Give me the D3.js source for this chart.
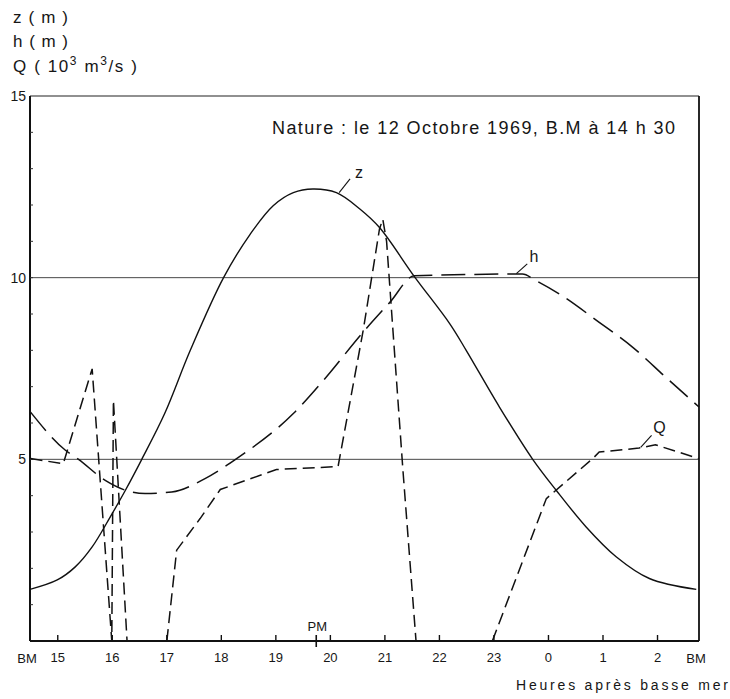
<!DOCTYPE html>
<html>
<head>
<meta charset="utf-8">
<script src="https://cdn.jsdelivr.net/npm/d3@7"></script>
<style>
  body { margin: 0; background: #fff; }
  text { font-family: "Liberation Sans", "DejaVu Sans", sans-serif; fill: #161616; }
</style>
</head>
<body>
<script>
// Values. Hours run past 24 so the curves stay continuous (24 = 0h, 25 = 1h...)

// z : water level (m), solid
const zHours  = [14.5, 15.0, 15.33, 15.64, 15.97, 16.25, 16.55, 16.97, 17.44, 18.05, 18.54, 18.96, 19.33, 19.69, 20.12, 20.55, 20.91, 21.55, 22.2, 22.5, 23.11, 23.72, 24.15, 24.7, 25.25, 25.86, 26.72]
const zValues = [1.42, 1.68, 2.04, 2.59, 3.41, 4.15, 5.0, 6.26, 8.0, 10.0, 11.2, 11.98, 12.34, 12.44, 12.34, 11.89, 11.38, 10.03, 8.73, 8.0, 6.44, 5.0, 4.15, 3.14, 2.32, 1.72, 1.42]

// h : basin level (m), long dashes
const hHours  = [14.51, 15.15, 15.39, 15.88, 16.25, 16.61, 17.1, 17.71, 18.29, 19.33, 19.88, 20.61, 21.1, 21.55, 23.53, 23.78, 24.21, 24.94, 25.55, 26.16, 26.77]
const hValues = [6.3, 5.25, 5.0, 4.42, 4.15, 4.06, 4.1, 4.47, 5.02, 6.26, 7.17, 8.5, 9.32, 10.05, 10.1, 9.92, 9.55, 8.77, 8.09, 7.26, 6.44]

// Q : flow (10^3 m3/s), short dashes. null = off the chart (below 0)
const qHours  = [14.51, 15.11, 15.64, 16.0, 16.03, 16.28, 16.6, 17.01, 17.19, 17.62, 17.99, 19.02, 20.15, 20.61, 20.91, 20.97, 21.04, 21.34, 21.58, 22.3, 22.98, 23.97, 24.82, 24.94, 25.67, 25.97, 26.77]
const qValues = [5.02, 4.88, 7.49, 0, 6.62, 0, null, 0, 2.5, 3.37, 4.17, 4.72, 4.8, 8.54, 11.34, 11.61, 11.0, 4.7, 0, null, 0, 3.92, 5.02, 5.2, 5.31, 5.4, 5.02]

// axes
const xStart = 14.5    // BM 14h30
const xEnd = 26.77     // next BM
const xTicks = [15, 16, 17, 18, 19, 20, 21, 22, 23, 24, 25, 26]
const xTickLabels = ['15', '16', '17', '18', '19', '20', '21', '22', '23', '0', '1', '2']
const pmHour = 19.75
const yTicks = [5, 10, 15]
const gridLevels = [5, 10]

const zData = zHours.map((t, i) => ({t, v: zValues[i]}))
const hData = hHours.map((t, i) => ({t, v: hValues[i]}))
const qData = qHours.map((t, i) => ({t, v: qValues[i]}))

const body = d3.select("body")

const margin = {left: 30, top: 96, right: 31, bottom: 58}
const outerWidth = 730
const outerHeight = 699
const width = outerWidth - margin.left - margin.right
const height = outerHeight - margin.top - margin.bottom

const svg = body.append("svg")
    .attr("width", outerWidth)
    .attr("height", outerHeight)

const canvas = svg.append("g")
    .attr("transform", `translate(${margin.left}, ${margin.top})`)

const x = d3.scaleLinear().domain([xStart, xEnd]).range([0, width])
const y = d3.scaleLinear().domain([0, 15]).range([height, 0])

// unit labels top left
const units = svg.append("g").style("font-size", "17px")
units.append("text").attr("x", 13).attr("y", 23).attr("textLength", 55).attr("lengthAdjust", "spacing").text("z ( m )")
units.append("text").attr("x", 13).attr("y", 47).attr("textLength", 55).attr("lengthAdjust", "spacing").text("h ( m )")
const qUnit = units.append("text").attr("x", 13).attr("y", 72).style("letter-spacing", "1.6px")
qUnit.append("tspan").text("Q ( 10")
qUnit.append("tspan").attr("dy", -7).style("font-size", "12px").text("3")
qUnit.append("tspan").attr("dy", 7).text(" m")
qUnit.append("tspan").attr("dy", -7).style("font-size", "12px").text("3")
qUnit.append("tspan").attr("dy", 7).text("/s )")

// grid lines at 5 and 10
canvas.selectAll(".grid")
    .data(gridLevels)
    .join("line")
    .attr("class", "grid")
    .attr("x1", 0).attr("x2", width)
    .attr("y1", d => y(d)).attr("y2", d => y(d))
    .attr("stroke", "#333").attr("stroke-width", 0.9)

// frame
canvas.append("line").attr("x1", 0).attr("x2", width).attr("y1", 0).attr("y2", 0)
    .attr("stroke", "#222").attr("stroke-width", 1.2)
canvas.append("line").attr("x1", width).attr("x2", width).attr("y1", 0).attr("y2", height)
    .attr("stroke", "#111").attr("stroke-width", 1.8)
canvas.append("line").attr("x1", 0).attr("x2", 0).attr("y1", 0).attr("y2", height)
    .attr("stroke", "#111").attr("stroke-width", 2)
canvas.append("line").attr("x1", 0).attr("x2", width).attr("y1", height).attr("y2", height)
    .attr("stroke", "#111").attr("stroke-width", 2)

// x axis: small ticks pointing up, labels below
const xAxis = d3.axisBottom(x)
    .tickValues(xTicks)
    .tickSize(-6)
    .tickPadding(12)
    .tickFormat((d, i) => xTickLabels[i])

const gx = canvas.append("g")
    .attr("transform", `translate(0, ${height})`)
    .call(xAxis)
gx.select(".domain").remove()
gx.selectAll("line").attr("stroke", "#111").attr("stroke-width", 1.4)
gx.selectAll("text").style("font-size", "13px").style("font-family", '"Liberation Sans", sans-serif').attr("fill", "#161616")

// BM at both ends
canvas.selectAll(".bm")
    .data([xStart, xEnd])
    .join("text")
    .attr("class", "bm")
    .attr("x", d => x(d) - 3)
    .attr("y", height + 22)
    .attr("text-anchor", "middle")
    .style("font-size", "13px")
    .text("BM")

// PM marker
canvas.append("line")
    .attr("x1", x(pmHour)).attr("x2", x(pmHour))
    .attr("y1", height - 6).attr("y2", height + 6)
    .attr("stroke", "#111").attr("stroke-width", 1.6)
canvas.append("text")
    .attr("x", x(pmHour) + 1)
    .attr("y", height - 10)
    .attr("text-anchor", "middle")
    .style("font-size", "13px")
    .text("PM")

svg.append("text")
    .attr("x", 728).attr("y", 690)
    .attr("text-anchor", "end")
    .attr("textLength", 212).attr("lengthAdjust", "spacing")
    .style("font-size", "14px")
    .text("Heures après basse mer")

// y axis labels only
const yAxis = d3.axisLeft(y).tickValues(yTicks).tickSize(0).tickPadding(4)
const gy = canvas.append("g").call(yAxis)
gy.select(".domain").remove()
gy.selectAll("text").style("font-size", "14px").style("font-family", '"Liberation Sans", sans-serif').attr("fill", "#161616")

// small unit ticks on the left axis
canvas.selectAll(".ytick")
    .data(d3.range(1, 15))
    .join("line")
    .attr("class", "ytick")
    .attr("x1", 0).attr("x2", 3)
    .attr("y1", d => y(d)).attr("y2", d => y(d))
    .attr("stroke", "#333").attr("stroke-width", 1)

// title
svg.append("text")
    .attr("x", 675).attr("y", 134)
    .attr("text-anchor", "end")
    .attr("textLength", 403).attr("lengthAdjust", "spacing")
    .style("font-size", "18px")
    .text("Nature : le 12 Octobre 1969, B.M à 14 h 30")

// curves - catmull for the tide, monotone for h so the flat part stays flat
const smooth = d3.line().x(d => x(d.t)).y(d => y(d.v)).curve(d3.curveCatmullRom.alpha(0.5))
const flat = d3.line().x(d => x(d.t)).y(d => y(d.v)).curve(d3.curveMonotoneX)
const poly = d3.line().defined(d => d.v != null).x(d => x(d.t)).y(d => y(d.v))

canvas.append("path").datum(zData)
    .attr("d", smooth)
    .attr("fill", "none").attr("stroke", "#111").attr("stroke-width", 1.4)

canvas.append("path").datum(hData)
    .attr("d", flat)
    .attr("fill", "none").attr("stroke", "#111").attr("stroke-width", 1.5)
    .attr("stroke-dasharray", "24,9")

canvas.append("path").datum(qData)
    .attr("d", poly)
    .attr("fill", "none").attr("stroke", "#111").attr("stroke-width", 1.5)
    .attr("stroke-dasharray", "12,6")

// curve names with leader lines (anchored in data units)
const notes = [
    {name: 'z', from: [20.17, 12.34], to: [20.37, 12.72], at: [20.46, 12.75]},
    {name: 'h', from: [23.42, 10.11], to: [23.62, 10.38], at: [23.66, 10.42]},
    {name: 'Q', from: [25.7, 5.33], to: [25.9, 5.66], at: [25.93, 5.72]},
]

canvas.selectAll(".leader")
    .data(notes)
    .join("line")
    .attr("class", "leader")
    .attr("x1", d => x(d.from[0])).attr("y1", d => y(d.from[1]))
    .attr("x2", d => x(d.to[0])).attr("y2", d => y(d.to[1]))
    .attr("stroke", "#111").attr("stroke-width", 1.1)

canvas.selectAll(".note")
    .data(notes)
    .join("text")
    .attr("class", "note")
    .attr("x", d => x(d.at[0]))
    .attr("y", d => y(d.at[1]))
    .style("font-size", "16px")
    .text(d => d.name)
</script>
</body>
</html>
